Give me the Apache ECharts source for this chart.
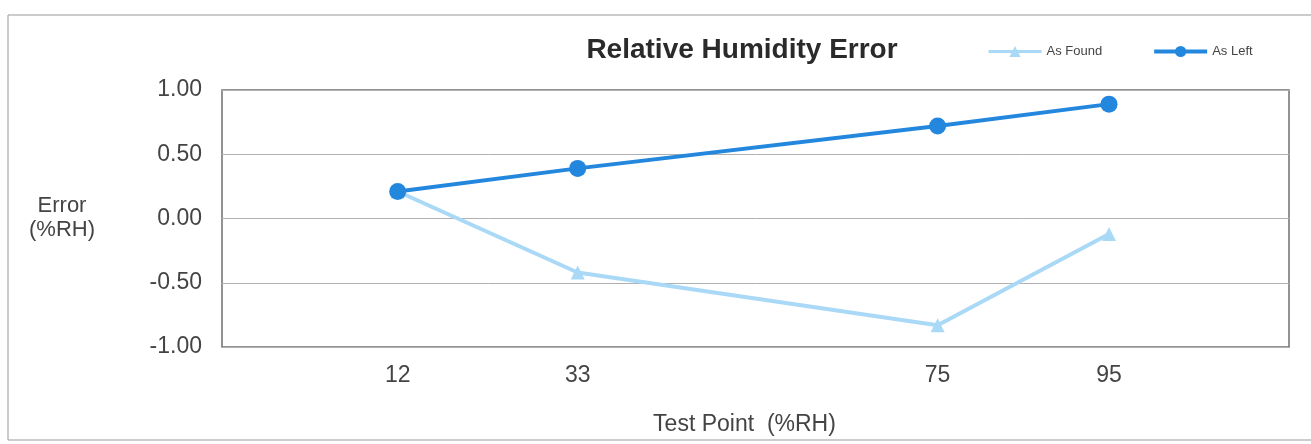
<!DOCTYPE html>
<html>
<head>
<meta charset="utf-8">
<script src="https://cdn.jsdelivr.net/npm/echarts@6/dist/echarts.min.js"></script>
<style>
  html, body { margin: 0; padding: 0; background: #fff; }
  #myCanvas { width: 1311px; height: 444px; }
</style>
</head>
<body>
<div id="myCanvas"></div>
<script>
// Test points (%RH) and errors
var testPoints = [12, 33, 75, 95];
var asFound = [0.21, -0.42, -0.83, -0.12];
var asLeft = [0.21, 0.39, 0.72, 0.89];
var yTicks = [-1, -0.5, 0, 0.5, 1];

var myCanvas = echarts.init(document.getElementById('myCanvas'), null, { renderer: 'canvas' });

function pairs(xs, ys) {
  return xs.map(function (x, i) { return [x, ys[i]]; });
}

var font = 'Liberation Sans, Arial, sans-serif';
var foundColor = '#a9d9f7';
var leftColor = '#2487de';

var option = {
  animation: false,
  backgroundColor: '#fff',
  graphic: [
    // faint frame of the scanned chart
    {
      type: 'rect',
      shape: { x: 8, y: 15, width: 1320, height: 425 },
      style: { fill: 'none', stroke: '#999', lineWidth: 1 }
    },
    // y axis title, centered
    {
      type: 'text',
      x: 62,
      y: 194,
      style: {
        text: 'Error\n(%RH)',
        align: 'center',
        fill: '#444',
        font: '22px ' + font,
        lineHeight: 24
      }
    }
  ],
  title: {
    text: 'Relative Humidity Error',
    left: 737,
    textAlign: 'center',
    top: 31,
    textStyle: { fontFamily: font, fontSize: 28, fontWeight: 'bold', color: '#2a2a2a' }
  },
  legend: {
    left: 982,
    top: 40,
    itemWidth: 53,
    itemHeight: 14,
    itemGap: 50,
    textStyle: { fontFamily: font, fontSize: 13, color: '#444' },
    data: [
      { name: 'As Found', lineStyle: { width: 3 } },
      { name: 'As Left', lineStyle: { width: 4 } }
    ]
  },
  grid: { left: 222, right: 22, top: 90, height: 257, show: true, borderColor: '#707070', borderWidth: 1.5 },
  xAxis: {
    type: 'value',
    min: -8.5,
    max: 116,
    name: 'Test Point  (%RH)',
    nameLocation: 'middle',
    nameGap: 66,
    nameTextStyle: { fontFamily: font, fontSize: 23, color: '#444', padding: [0, 22, 0, 0] },
    axisLine: { show: false },
    axisTick: { show: false },
    splitLine: { show: false },
    axisLabel: {
      customValues: testPoints,
      margin: 17,
      fontFamily: font, fontSize: 23, color: '#444'
    }
  },
  yAxis: {
    type: 'value',
    min: yTicks[0],
    max: yTicks[yTicks.length - 1],
    interval: 0.5,
    axisLine: { show: false },
    axisTick: { show: false },
    splitLine: { lineStyle: { color: '#b0b0b0', width: 1 } },
    axisLabel: {
      margin: 20,
      fontFamily: font, fontSize: 23, color: '#444',
      formatter: function (v) { return v.toFixed(2); }
    }
  },
  series: [
    {
      name: 'As Found',
      type: 'line',
      data: pairs(testPoints, asFound),
      symbol: 'triangle',
      symbolSize: 14,
      lineStyle: { color: foundColor, width: 4 },
      itemStyle: { color: foundColor },
      z: 2
    },
    {
      name: 'As Left',
      type: 'line',
      data: pairs(testPoints, asLeft),
      symbol: 'circle',
      symbolSize: 17,
      lineStyle: { color: leftColor, width: 4 },
      itemStyle: { color: leftColor },
      z: 3
    }
  ]
};

myCanvas.setOption(option);
</script>
</body>
</html>
